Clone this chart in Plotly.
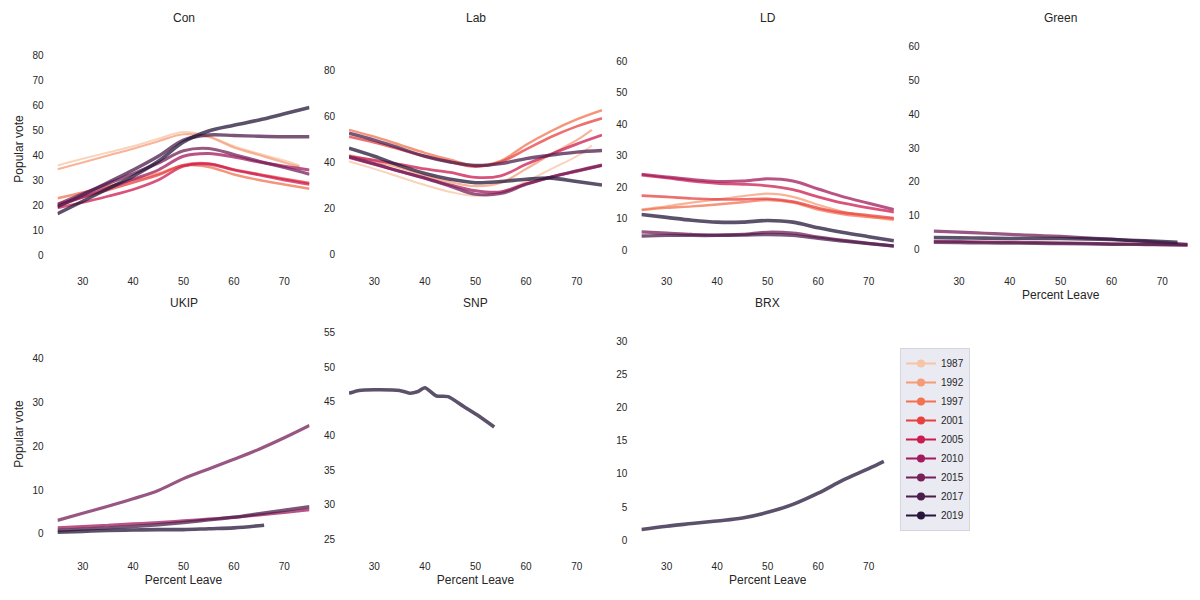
import plotly.graph_objects as go

# ---------------- data ----------------
YEARS = [1987, 1992, 1997, 2001, 2005, 2010, 2015, 2017, 2019]
PANELS = ["Con", "Lab", "LD", "Green", "UKIP", "SNP", "BRX"]

X_GRID = [25, 30, 35, 40, 45, 50, 55, 60, 65, 70, 75]
X_GRID_73 = [25, 30, 35, 40, 45, 50, 55, 60, 65, 70, 73]
X_UKIP_2019 = [25, 30, 35, 40, 45, 50, 55, 60, 66]
X_SNP_2019 = [25, 27, 30, 35, 37, 38.5, 40, 42.3, 44.6, 47.6, 50.2, 53.7]

con = {
    1987: [35.8, 38.5, 41, 43.5, 46.5, 49.2, 47.5, 43.5, 40.5, 37.8, 35.8],
    1992: [34.3, 37, 39.8, 42.5, 45.5, 48.3, 47.2, 43, 40, 37, 35.3],
    1997: [22.7, 25, 27.5, 30, 32.5, 35.8, 35.2, 32.2, 30, 28.2, 26.5],
    2001: [20.5, 23, 26, 29, 32, 36, 36.6, 34.2, 32.3, 30.5, 28.8],
    2005: [18.8, 21, 23.5, 26.2, 30, 35.5, 36.3, 34, 32, 30, 28.3],
    2010: [19.5, 23.3, 26.8, 30.3, 34, 39.5, 40.6, 39.2, 37.2, 35.5, 34],
    2015: [20.2, 24.5, 28.5, 32.5, 36.8, 41.7, 42.6, 40.2, 37.5, 35, 32.3],
    2017: [19.3, 24, 29, 34, 39.5, 46, 48, 47.8, 47.5, 47.3, 47.3],
    2019: [16.5, 21.5, 26.5, 31.5, 37.5, 45.2, 49.6, 51.9, 54, 56.5, 59],
}
lab = {
    1987: [40.2, 37, 33.5, 30, 27, 25.3, 27, 31.5, 37, 42.5, 47.2],
    1992: [43, 40.5, 37.5, 34.2, 31.3, 29.5, 31, 37, 43.5, 49.5, 54],
    1997: [54, 51, 47.5, 44, 41, 38.5, 40.5, 47.5, 53.5, 58.5, 62.5],
    2001: [51, 48.5, 45.5, 42.5, 40, 38, 40, 45.5, 51, 55.5, 59],
    2005: [42.5, 40.8, 39, 37, 35.5, 33.3, 34, 39, 43.5, 47.8, 51.7],
    2010: [42, 39, 36, 33, 30, 27.5, 27, 30.5, 33.5, 36, 38.5],
    2015: [42.3, 39.3, 36, 33, 29.5, 26, 26.3, 30.3, 33.5, 36.2, 38.7],
    2017: [52.5, 49.5, 46, 42.5, 40, 38.5, 39.3, 41.5, 43, 44.3, 45],
    2019: [46, 42.5, 38.5, 35, 32.5, 31, 31.5, 32.5, 33, 31.5, 30],
}
ld = {
    1992: [13, 14, 15.2, 16.2, 17.2, 18, 17, 14.5, 12.3, 10.8, 9.6],
    1997: [12.8, 13.5, 14, 14.6, 15.3, 16, 15.2, 13, 11.5, 10.6, 10],
    2001: [17.4, 17, 16.5, 16.2, 16.2, 16.4, 15.5, 13.5, 12, 11.2, 10.3],
    2005: [23.9, 23, 22, 21.3, 21, 20.5, 19.3, 17, 15, 13.5, 12.2],
    2010: [24.2, 23.3, 22.5, 21.9, 22, 22.7, 22, 19.5, 17, 15, 13],
    2015: [5.9, 5.5, 5.1, 4.9, 5.1, 5.8, 5.5, 4.3, 3.2, 2.3, 1.5],
    2017: [4.6, 4.8, 4.8, 4.8, 4.9, 5.1, 4.8, 3.9, 3, 2.2, 1.4],
    2019: [11.4, 10.5, 9.6, 9, 9, 9.5, 9, 7.2, 5.7, 4.4, 3.1],
}
green = {
    2010: [2.4, 2.3, 2.2, 2.1, 2.0, 1.9, 1.8, 1.6, 1.5, 1.35, 1.2],
    2015: [5.4, 5.1, 4.75, 4.4, 4.1, 3.8, 3.4, 3.0, 2.5, 2.0, 1.5],
    2017: [2.1, 2.0, 1.9, 1.85, 1.8, 1.7, 1.6, 1.5, 1.45, 1.4, 1.3],
    2019: [3.5, 3.4, 3.3, 3.2, 3.2, 3.2, 3.1, 2.9, 2.6, 2.3, 2.1],
}
ukip = {
    2010: [1.4, 1.7, 2.0, 2.3, 2.6, 3.0, 3.4, 3.8, 4.3, 4.9, 5.5],
    2015: [3.1, 4.7, 6.3, 8.0, 9.9, 12.6, 14.8, 17.0, 19.3, 21.9, 24.7],
    2017: [0.8, 1.1, 1.4, 1.7, 2.1, 2.6, 3.2, 3.8, 4.6, 5.4, 6.2],
    2019: [0.4, 0.6, 0.8, 0.9, 1.0, 1.0, 1.2, 1.4, 2.0],
}
snp = {2019: [46.2, 46.6, 46.7, 46.6, 46.2, 46.4, 47.0, 45.8, 45.7, 44.3, 43.1, 41.3]}
brx = {2019: [1.6, 2.1, 2.5, 2.9, 3.35, 4.2, 5.4, 7.1, 9.1, 10.8, 11.9]}

# x values used by each (panel, year) series
x_for = {
    ("Con", 1987): X_GRID_73, ("Con", 1992): X_GRID_73,
    ("Lab", 1987): X_GRID_73, ("Lab", 1992): X_GRID_73,
    ("Green", 2019): X_GRID_73,
    ("UKIP", 2019): X_UKIP_2019,
    ("SNP", 2019): X_SNP_2019,
    ("BRX", 2019): X_GRID_73,
}
panel_data = {"Con": con, "Lab": lab, "LD": ld, "Green": green,
              "UKIP": ukip, "SNP": snp, "BRX": brx}

# ---------------- style ----------------
COLORS = ["#f7c4a6", "#f59b76", "#f2714f", "#e83f3f", "#cb1b4f",
          "#a11a5b", "#761f58", "#4c1d4b", "#26173a"]
WIDTHS = [2.0, 2.2, 2.4, 2.6, 2.8, 3.0, 3.2, 3.4, 3.6]
ALPHA = 0.75
TXT = "#262626"
FONT = "Liberation Sans, Arial, sans-serif"

# page body has an 8px margin: figure coordinates = screen coordinates - 8
OFF = 8
W, H = 1192, 592
col_px = [(57.5, 309.5), (349, 602), (641.4, 893.9), (933.6, 1187.7)]
row_px = [(31, 267), (316, 552)]
title_px = [18, 303]
yranges = {"Con": [-4.8, 89.6], "Lab": [-5.65, 96.96], "LD": [-5.2, 69.5],
           "Green": [-5.24, 64.65], "UKIP": [-4.1, 49.6], "SNP": [23.16, 57.4],
           "BRX": [-1.8, 33.9]}
ydticks = {"Con": 10, "Lab": 20, "LD": 10, "Green": 10, "UKIP": 10, "SNP": 5, "BRX": 5}
ylabels = {"Con": "Popular vote", "UKIP": "Popular vote"}
xlabels = {"Green": "Percent Leave", "UKIP": "Percent Leave",
           "SNP": "Percent Leave", "BRX": "Percent Leave"}


def rgba(hexc, a):
    h = hexc.lstrip("#")
    r, g, b = int(h[0:2], 16), int(h[2:4], 16), int(h[4:6], 16)
    return f"rgba({r},{g},{b},{a})"


def fx(px):
    return (px - OFF) / W


def fy(px):
    return 1 - (px - OFF) / H


fig = go.Figure()
annotations = []
layout_axes = {}

for i, panel in enumerate(PANELS):
    r, c = divmod(i, 4)
    n = i + 1
    xa = "x" if n == 1 else f"x{n}"
    ya = "y" if n == 1 else f"y{n}"
    xkey = "xaxis" if n == 1 else f"xaxis{n}"
    ykey = "yaxis" if n == 1 else f"yaxis{n}"
    x0, x1 = col_px[c]
    t0, t1 = row_px[r]
    layout_axes[xkey] = dict(
        domain=[fx(x0), fx(x1)], range=[25, 75], anchor=ya, automargin=False,
        tickvals=[30, 40, 50, 60, 70], showgrid=False, zeroline=False,
        showline=False, ticks="outside", ticklen=5, tickcolor="rgba(0,0,0,0)",
        tickfont=dict(size=10, color=TXT, family=FONT),
        title=dict(text=xlabels.get(panel, ""), font=dict(size=12, color=TXT, family=FONT),
                   standoff=4),
    )
    layout_axes[ykey] = dict(
        domain=[fy(t1), fy(t0)], range=yranges[panel], anchor=xa, automargin=False,
        dtick=ydticks[panel], tick0=0, showgrid=False, zeroline=False, showline=False,
        ticks="outside", ticklen=11, tickcolor="rgba(0,0,0,0)",
        tickfont=dict(size=10, color=TXT, family=FONT),
        title=dict(text=ylabels.get(panel, ""), font=dict(size=12, color=TXT, family=FONT),
                   standoff=6),
    )
    annotations.append(dict(
        text=panel, x=fx((x0 + x1) / 2), y=fy(title_px[r]),
        xref="paper", yref="paper", xanchor="center", yanchor="middle",
        showarrow=False, font=dict(size=12, color=TXT, family=FONT)))

    data = panel_data[panel]
    for yi, yr in enumerate(YEARS):
        if yr not in data:
            continue
        xs = x_for.get((panel, yr), X_GRID)
        fig.add_trace(go.Scatter(
            x=xs, y=data[yr], mode="lines", xaxis=xa, yaxis=ya,
            line=dict(color=rgba(COLORS[yi], ALPHA), width=WIDTHS[yi],
                      shape="spline", smoothing=0.6 if panel == "SNP" else 1.0),
            showlegend=False, hoverinfo="skip"))

# legend-only entries
for yi, yr in enumerate(YEARS):
    fig.add_trace(go.Scatter(
        x=[None], y=[None], mode="lines+markers", name=str(yr),
        line=dict(color=COLORS[yi], width=2), marker=dict(color=COLORS[yi], size=8),
        showlegend=True))

fig.update_layout(
    width=W, height=H, margin=dict(l=0, r=0, t=0, b=0, autoexpand=False),
    paper_bgcolor="white", plot_bgcolor="white",
    font=dict(family=FONT, color=TXT),
    annotations=annotations,
    legend=dict(x=fx(900), y=fy(348), xanchor="left", yanchor="top",
                bgcolor="#eaeaf2", bordercolor="#d5d5dd", borderwidth=1,
                font=dict(size=10, color=TXT, family=FONT),
                itemwidth=30, tracegroupgap=0),
    **layout_axes,
)

fig.write_html("out.html")
